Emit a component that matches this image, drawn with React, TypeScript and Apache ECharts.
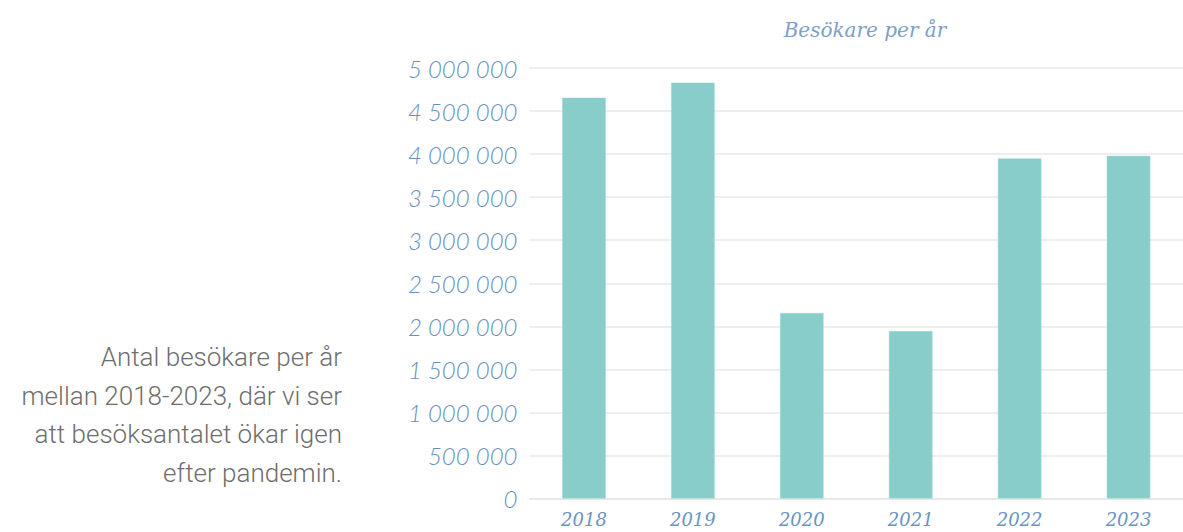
import React, { useEffect, useRef } from "react";
import * as echarts from "echarts";

const years = ["2018", "2019", "2020", "2021", "2022", "2023"];
const visitors = [4655000, 4830000, 2155000, 1945000, 3950000, 3980000];
const yTicks = { min: 0, max: 5000000, interval: 500000 };
const chartTitle = "Besökare per år";
const sideText = "Antal besökare per år\nmellan 2018-2023, där vi ser\natt besöksantalet ökar igen\nefter pandemin.";

const fmt = (v: number) => String(v).replace(/\B(?=(\d{3})+(?!\d))/g, " ");

export default function App() {
  const ref = useRef<HTMLDivElement>(null);
  useEffect(() => {
    if (!ref.current) return;
    const chart = echarts.init(ref.current, undefined, { renderer: "svg" });
    chart.setOption({
      animation: false,
      backgroundColor: "#ffffff",
      title: {
        text: chartTitle,
        left: 860,
        top: 15,
        textAlign: "center",
        textStyle: {
          fontFamily: "DejaVu Serif",
          fontStyle: "italic",
          fontWeight: "normal",
          fontSize: 20,
          color: "#7e9fc8",
        },
      },
      grid: { left: 529.5, right: -3.5, top: 68, bottom: 33.5, containLabel: false },
      xAxis: {
        type: "category",
        data: years,
        axisLine: { show: true, lineStyle: { color: "#e6e6e6", width: 1.5 } },
        axisTick: { show: false },
        axisLabel: {
          margin: 11,
          fontFamily: "DejaVu Serif",
          fontStyle: "italic",
          fontSize: 18,
          lineHeight: 20,
          color: "#6b94c2",
        },
      },
      yAxis: {
        type: "value",
        min: yTicks.min,
        max: yTicks.max,
        interval: yTicks.interval,
        axisLine: { show: false },
        axisTick: { show: false },
        splitLine: { lineStyle: { color: "#e8e8e8", width: 1.5 } },
        axisLabel: {
          margin: 12,
          fontFamily: "Lato",
          fontStyle: "italic",
          fontWeight: 300,
          fontSize: 24,
          color: "#6790c0",
          formatter: (v: number) => fmt(v),
        },
      },
      series: [
        {
          type: "bar",
          data: visitors,
          barWidth: "40%",
          itemStyle: { color: "#88cdca", borderColor: "#a3d8d5", borderWidth: 0.5 },
        },
      ],
      graphic: [
        {
          type: "text",
          x: 342,
          y: 338,
          style: {
            text: sideText,
            align: "right",
            verticalAlign: "top",
            fontFamily: "Roboto",
            fontWeight: 300,
            fontSize: 26,
            lineHeight: 38.5,
            fill: "#6e6e6e",
          },
        },
      ],
    });
    return () => chart.dispose();
  }, []);
  return (
    <div
      ref={ref}
      style={{ position: "absolute", left: 0, top: 0, width: 1183, height: 532 }}
    />
  );
}
